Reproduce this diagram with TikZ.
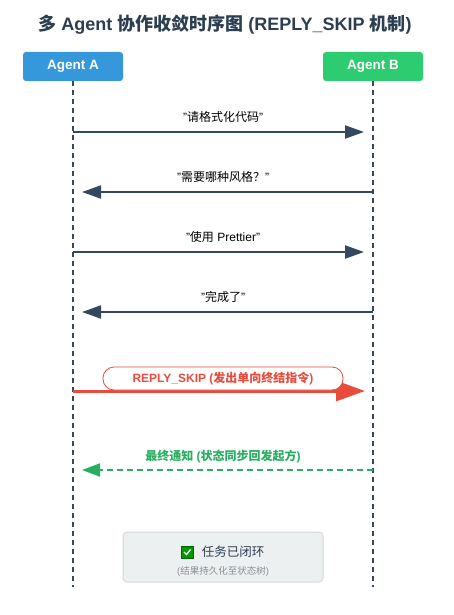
\documentclass[tikz,border=0pt]{standalone}
\usepackage{fontspec}
\setmainfont{Liberation Sans}
\newfontfamily\cjk{Noto Sans CJK SC}
\usetikzlibrary{arrows.meta, positioning}
\definecolor{agBlue}{HTML}{3498DB}
\definecolor{agGreen}{HTML}{2ECC71}
\definecolor{msgDark}{HTML}{34495E}
\definecolor{skipRed}{HTML}{E74C3C}
\definecolor{notifyGreen}{HTML}{27AE60}
\definecolor{boxGrey}{HTML}{ECF0F1}
\definecolor{boxEdge}{HTML}{D5D8DC}
\definecolor{txtDark}{HTML}{2C3E50}
\definecolor{txtGrey}{HTML}{8A8F94}
\tikzset{
  agent/.style     = {rounded corners=3pt, minimum width=100pt, minimum height=29pt,
                      text=white, font=\fontsize{13.5}{15}\selectfont\bfseries},
  lifeline/.style  = {dash pattern=on 5pt off 4pt, line width=1.9pt, txtDark!95},
  msg/.style       = {-{Triangle[length=19pt, width=13pt]}, line width=2pt, msgDark, shorten >=9pt},
  skipmsg/.style   = {-{Triangle[length=29pt, width=20pt]}, line width=3pt, skipRed, shorten >=8pt},
  notifymsg/.style = {-{Triangle[length=18pt, width=13pt]}, line width=1.8pt, notifyGreen,
                      dash pattern=on 6pt off 4pt, shorten >=9pt},
  msglbl/.style    = {font=\fontsize{12}{14}\selectfont, text=black},
}

\begin{document}
\begin{tikzpicture}[x=1pt, y=-1pt,
    pill/.style={draw=skipRed, line width=0.8pt, fill=white, rounded corners=11pt,
                 minimum width=240pt, minimum height=23pt, text=skipRed,
                 font=\fontsize{12}{14}\selectfont\bfseries},
    donebox/.style={draw=boxEdge, line width=1pt, fill=boxGrey, rounded corners=4pt,
                    minimum width=200pt, minimum height=50pt},
    tickbox/.style={draw=green!40!black, fill=green!60!black, minimum size=12pt, inner sep=0pt}]
  \useasboundingbox (0,0) rectangle (453,615);
  \node[font=\fontsize{18}{21}\selectfont\bfseries, text=txtDark] (title) at (225,25)
    {{\cjk 多} Agent {\cjk 协作收敛时序图} (REPLY\_SKIP {\cjk 机制})};
  \node[agent, fill=agBlue] (agentA) at (73,66.5) {Agent A};
  \node[agent, fill=agGreen] (agentB) at (373,66.5) {Agent B};
  \coordinate (endA) at (73,587);
  \coordinate (endB) at (373,587);
  \draw[lifeline] (agentA.south) -- (endA);
  \draw[lifeline] (agentB.south) -- (endB);
  % message rows
  \foreach \i/\y in {1/132, 2/192, 3/252, 4/312, 5/391, 6/470} {
    \coordinate (a\i) at (73,\y);
    \coordinate (b\i) at (373,\y);
  }
  \draw[msg] (a1) -- (b1) node[msglbl, midway, yshift=15pt] (m1) {"{\cjk 请格式化代码}"};
  \draw[msg] (b2) -- (a2) node[msglbl, midway, yshift=15pt] (m2) {"{\cjk 需要哪种风格？}"};
  \draw[msg] (a3) -- (b3) node[msglbl, midway, yshift=15pt] (m3) {"{\cjk 使用} Prettier"};
  \draw[msg] (b4) -- (a4) node[msglbl, midway, yshift=15pt] (m4) {"{\cjk 完成了}"};
  \draw[skipmsg] (a5) -- (b5);
  \node[pill] (skip) at (223,378.5) {REPLY\_SKIP ({\cjk 发出单向终结指令})};
  \draw[notifymsg] (b6) -- (a6) node[midway, yshift=13pt, text=notifyGreen,
    font=\fontsize{12}{14}\selectfont\bfseries] (m6) {{\cjk 最终通知} ({\cjk 状态同步回发起方})};
  % closing box
  \node[donebox] (done) at (223,557) {};
  \node[font=\fontsize{12.5}{14}\selectfont\cjk, text=txtDark] (doneTxt) at (233,552) {任务已闭环};
  \node[tickbox, left=5pt of doneTxt] (tick) {};
  \draw[white, line width=1.3pt] ([xshift=-3pt]tick.center) -- ([xshift=-0.5pt, yshift=-2.5pt]tick.center)
    -- ([xshift=3.5pt, yshift=2.5pt]tick.center);
  \node[font=\fontsize{9.5}{11}\selectfont, text=txtGrey] (doneSub) at (223,571) {({\cjk 结果持久化至状态树})};
\end{tikzpicture}
\end{document}
